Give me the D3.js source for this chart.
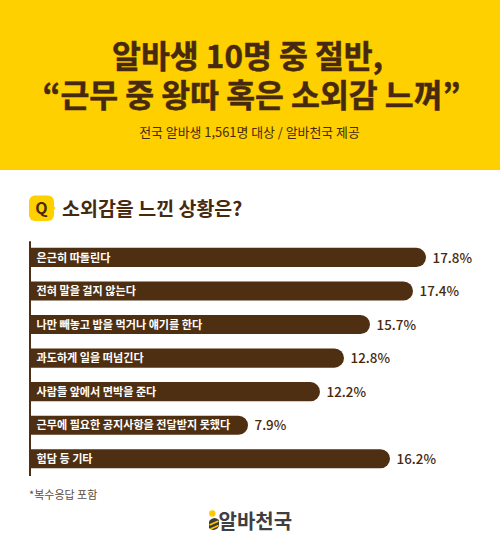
<!DOCTYPE html>
<html><head><meta charset="utf-8">
<script src="https://cdn.jsdelivr.net/npm/d3@7/dist/d3.min.js"></script>
<style>html,body{margin:0;padding:0;background:#fff;overflow:hidden}svg{display:block}text{font-family:"Noto Sans CJK KR","Noto Sans",sans-serif}</style>
</head><body><svg id="c" width="500" height="557"></svg>
<script>
const categories=["은근히 따돌린다","전혀 말을 걸지 않는다","나만 빼놓고 밥을 먹거나 얘기를 한다","과도하게 일을 떠넘긴다","사람들 앞에서 면박을 준다","근무에 필요한 공지사항을 전달받지 못했다","험담 등 기타"];
const values=[17.8,17.4,15.7,12.8,12.2,7.9,16.2];
const valueLabels=["17.8%","17.4%","15.7%","12.8%","12.2%","7.9%","16.2%"];
const titleLines=["알바생 10명 중 절반,","“근무 중 왕따 혹은 소외감 느껴”"];
const subtitle="전국 알바생 1,561명 대상 / 알바천국 제공";
const question="소외감을 느낀 상황은?";
const footnote="*복수응답 포함";
const brand="알바천국";
// The source graphic's bars are not strictly proportional, so the scale is piecewise.
const scaleDomain=[0,7.9,12.2,12.8,15.7,16.2,17.4,17.8];
const scaleRange=[30,248,320,344,370,390,413,426];

const brown="#4f2f11",yellow="#ffd000",ink="#47290f";
const svg=d3.select("#c");
svg.append("rect").attr("width",500).attr("height",170).attr("fill",yellow);
svg.selectAll("text.t").data(titleLines).join("text").attr("class","t")
 .attr("x",(d,i)=>[247.5,251.5][i]).attr("y",(d,i)=>[68,106.5][i]).attr("text-anchor","middle")
 .attr("font-size",31.4).attr("font-weight",700).attr("stroke",ink).attr("stroke-width",0.5).attr("fill",ink).text(d=>d);
svg.append("text").attr("x",249.5).attr("y",137).attr("text-anchor","middle")
 .attr("font-size",12.9).attr("fill",ink).text(subtitle);

// Q badge
svg.append("rect").attr("x",29).attr("y",195.5).attr("width",25).attr("height",25.5).attr("rx",6).attr("fill",yellow);
svg.append("path").attr("d","M53 205l2.5 3l-2.5 3z").attr("fill",yellow);
svg.append("text").attr("x",41.5).attr("y",214).attr("text-anchor","middle").attr("font-size",16).attr("font-weight",700).attr("fill",ink).text("Q");
svg.append("text").attr("x",62).attr("y",216).attr("font-size",19.5).attr("font-weight",700).attr("fill",ink).text(question);

const x=d3.scaleLinear().domain(scaleDomain).range(scaleRange);
const y=d3.scaleBand().domain(categories).range([240.8,475.4]).paddingInner(0.43).paddingOuter(0.21);
const h=y.bandwidth();
const g=svg.append("g");
g.selectAll("path.bar").data(categories).join("path").attr("class","bar")
 .attr("fill",brown)
 .attr("d",(d,i)=>{const x0=x(0),x1=x(values[i]),t=y(d),r=h/2;
   return `M${x0} ${t}H${x1-r}A${r} ${r} 0 0 1 ${x1-r} ${t+h}H${x0}Z`;});
const axis=d3.axisLeft(y).tickSize(0).tickFormat("");
const ax=svg.append("g").attr("transform",`translate(${x(0)-0.5},0)`).call(axis);
ax.select(".domain").attr("stroke",brown).attr("stroke-width",2);
g.selectAll("text.c").data(categories).join("text").attr("class","c")
 .attr("x",36.5).attr("y",d=>y(d)+h/2+4.2).attr("font-size",11.1).attr("font-weight",700).attr("fill","#fff").text(d=>d);
g.selectAll("text.v").data(categories).join("text").attr("class","v")
 .attr("x",(d,i)=>x(values[i])+6.5).attr("y",d=>y(d)+h/2+5.2).attr("font-size",13.4).attr("font-weight",500).attr("fill",ink).text((d,i)=>valueLabels[i]);

svg.append("text").attr("x",29).attr("y",499).attr("font-size",11).attr("fill","#5a4c3e").text(footnote);

// brand mark
const logo=svg.append("g");
logo.append("circle").attr("cx",212.3).attr("cy",513.5).attr("r",3.2).attr("fill","#ffc800");
logo.append("path").attr("d","M209 522a6 6 0 0 1 10-2l0 6a6 6 0 0 1-10 2z").attr("fill","#3c3a34");
logo.append("path").attr("d","M209.5 525l9-4M210.5 529l8-3.5").attr("stroke","#ffc800").attr("stroke-width",1.6);
svg.append("text").attr("x",218.5).attr("y",529).attr("font-size",20).attr("font-weight",700).attr("fill","#3f3f42").text(brand);
</script></body></html>
